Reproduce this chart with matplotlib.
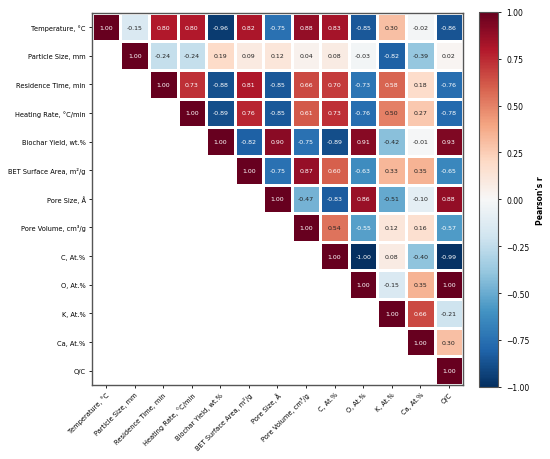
import numpy as np
import matplotlib.pyplot as plt

labels = ['Temperature, °C', 'Particle Size, mm', 'Residence Time, min',
          'Heating Rate, °C/min', 'Biochar Yield, wt.%', 'BET Surface Area, m²/g',
          'Pore Size, Å', 'Pore Volume, cm³/g', 'C, At.%', 'O, At.%',
          'K, At.%', 'Ca, At.%', 'O/C']

# upper triangle rows (diagonal onwards)
r0 = [1.00, -0.15, 0.80, 0.80, -0.96, 0.82, -0.75, 0.88, 0.83, -0.85, 0.30, -0.02, -0.86]
r1 = [1.00, -0.24, -0.24, 0.19, 0.09, 0.12, 0.04, 0.08, -0.03, -0.82, -0.39, 0.02]
r2 = [1.00, 0.73, -0.88, 0.81, -0.85, 0.66, 0.70, -0.73, 0.58, 0.18, -0.76]
r3 = [1.00, -0.89, 0.76, -0.85, 0.61, 0.73, -0.76, 0.50, 0.27, -0.78]
r4 = [1.00, -0.82, 0.90, -0.75, -0.89, 0.91, -0.42, -0.01, 0.93]
r5 = [1.00, -0.75, 0.87, 0.60, -0.63, 0.33, 0.35, -0.65]
r6 = [1.00, -0.47, -0.83, 0.86, -0.51, -0.10, 0.88]
r7 = [1.00, 0.54, -0.55, 0.12, 0.16, -0.57]
r8 = [1.00, -1.00, 0.08, -0.40, -0.99]
r9 = [1.00, -0.15, 0.35, 1.00]
r10 = [1.00, 0.66, -0.21]
r11 = [1.00, 0.30]
r12 = [1.00]
rows = [r0, r1, r2, r3, r4, r5, r6, r7, r8, r9, r10, r11, r12]

n = len(labels)
corr = np.full((n, n), np.nan)
for i, r in enumerate(rows):
    corr[i, i:] = r
data = np.ma.masked_invalid(corr)

fig = plt.figure(figsize=(5.5, 4.6), dpi=100)
ax = fig.add_axes([0.167, 0.161, 0.675, 0.809])
cax = fig.add_axes([0.871, 0.157, 0.035, 0.815])

mesh = ax.pcolormesh(data, cmap='RdBu_r', vmin=-1, vmax=1,
                     edgecolors='white', linewidth=0.8)
ax.set_xlim(0, n)
ax.set_ylim(n, 0)
ax.set_xticks(np.arange(n) + 0.5)
ax.set_yticks(np.arange(n) + 0.5)
ax.set_xticklabels(labels, rotation=45, ha='right', rotation_mode='anchor', fontsize=4.8)
ax.set_yticklabels(labels, fontsize=4.8)
ax.tick_params(length=2.5, width=0.6, pad=2)
for s in ax.spines.values():
    s.set_color('#555555')
    s.set_linewidth(1.0)

for i in range(n):
    for j in range(i, n):
        v = corr[i, j]
        col = 'white' if abs(v) >= 0.55 else '#222222'
        ax.text(j + 0.5, i + 0.5, '%.2f' % v, ha='center', va='center',
                fontsize=4.5, color=col)

cb = fig.colorbar(mesh, cax=cax)
cb.set_ticks([-1, -0.75, -0.5, -0.25, 0, 0.25, 0.5, 0.75, 1])
cb.ax.tick_params(labelsize=5.5, length=2.5, width=0.6)
cb.set_label("Pearson's r", fontsize=5.5, fontweight='bold')
cb.outline.set_edgecolor('#555555')

fig.savefig('out.png', dpi=100)
